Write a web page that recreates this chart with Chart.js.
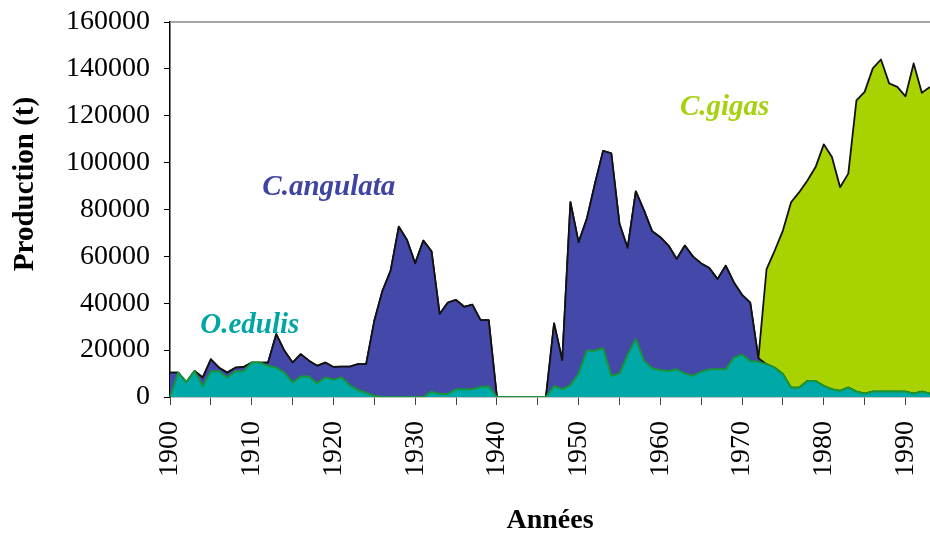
<!DOCTYPE html>
<html>
<head>
<meta charset="utf-8">
<script src="https://cdn.jsdelivr.net/npm/chart.js@4.4.1/dist/chart.umd.min.js"></script>
<style>
  body { margin: 0; background: #ffffff; overflow: hidden; }
</style>
</head>
<body>
<canvas id="grafico_huitres" width="930" height="536"></canvas>
<script>
// annees 1900 -> 1993
const annees = []
for (let a = 1900; a <= 1993; a++) annees.push(a)

// production en tonnes (aires empilees)
const o_edulis = [
    0, 10400, 6300, 11100, 4700, 11000, 11000, 8300, 11000, 11000,
    14700, 14700, 13300, 12500, 10400, 6300, 8700, 8700, 5900, 8300,
    7400, 8300, 5000, 3000, 1800, 400, 0, 0, 0, 0,
    0, 0, 2300, 1300, 1300, 3300, 3300, 3300, 4300, 4500,
    0, 0, 0, 0, 0, 0, 0, 4700, 3300, 5100,
    10000, 19700, 19700, 20800, 9000, 10000, 18000, 24700, 15400, 12300,
    11400, 11100, 11800, 10000, 9000, 10800, 11800, 11800, 11800, 16800,
    18000, 15400, 15000, 14000, 12500, 9700, 4000, 4000, 6800, 6800,
    4700, 3300, 2600, 4000, 2300, 1400, 2300, 2300, 2300, 2300,
    2300, 1400, 2300, 1400
]
const c_angulata = [
    10400, 0, 0, 0, 3600, 5100, 1500, 2100, 1500, 1800,
    0, 0, 1400, 14300, 9300, 8400, 9600, 6800, 7400, 6400,
    5400, 4700, 8000, 11000, 12200, 32100, 45300, 53900, 72700, 67000,
    57000, 66700, 59900, 34100, 39000, 38100, 35200, 36100, 28500, 28300,
    0, 0, 0, 0, 0, 0, 0, 26700, 12400, 78000,
    56000, 56300, 71300, 84200, 95000, 63900, 45600, 63000, 64200, 58400,
    56800, 53500, 47100, 54600, 50900, 46200, 43200, 38500, 44200, 32100,
    25600, 24900, 1500, 0, 0, 0, 0, 0, 0, 0,
    0, 0, 0, 0, 0, 0, 0, 0, 0, 0,
    0, 0, 0, 0
]
const c_gigas = [
    0, 0, 0, 0, 0, 0, 0, 0, 0, 0,
    0, 0, 0, 0, 0, 0, 0, 0, 0, 0,
    0, 0, 0, 0, 0, 0, 0, 0, 0, 0,
    0, 0, 0, 0, 0, 0, 0, 0, 0, 0,
    0, 0, 0, 0, 0, 0, 0, 0, 0, 0,
    0, 0, 0, 0, 0, 0, 0, 0, 0, 0,
    0, 0, 0, 0, 0, 0, 0, 0, 0, 0,
    0, 0, 0, 40600, 50000, 61300, 79100, 83400, 85600, 91300,
    103100, 99100, 86900, 91300, 124300, 128800, 137900, 141700, 131500, 130000,
    126000, 140900, 127500, 130900
]

// noms des especes poses sur le graphique (annee, valeur)
const etiquettes = [
    ['C.angulata', 1911.3, 86000, '#3f44a4'],
    ['O.edulis', 1903.7, 27300, '#00a6a6'],
    ['C.gigas', 1962.4, 120300, '#a6d10e'],
]

const police = 'Liberation Serif, Times New Roman, serif'

const plugin_textes = {
    id: 'textes',
    afterDraw(chart) {
        const ctx = chart.ctx
        const ca = chart.chartArea
        const sx = chart.scales.x
        const sy = chart.scales.y
        ctx.save()
        // cadre gris en haut
        ctx.strokeStyle = '#8a8a8a'
        ctx.lineWidth = 1.5
        ctx.beginPath()
        ctx.moveTo(ca.left, ca.top)
        ctx.lineTo(ca.right, ca.top)
        ctx.stroke()
        // especes
        ctx.font = 'italic bold 29px ' + police
        ctx.textAlign = 'left'
        ctx.textBaseline = 'alphabetic'
        etiquettes.forEach(e => {
            ctx.fillStyle = e[3]
            ctx.fillText(e[0], sx.getPixelForValue(e[1] - annees[0]), sy.getPixelForValue(e[2]))
        })
        // titre axe y
        ctx.fillStyle = '#000'
        ctx.font = 'bold 29px ' + police
        ctx.textAlign = 'center'
        ctx.textBaseline = 'middle'
        ctx.translate(26, 184)
        ctx.rotate(-Math.PI / 2)
        ctx.fillText('Production (t)', 0, 0)
        ctx.restore()
    }
}

const data_huitres = {
    labels: annees,
    datasets: [{
        label: 'O.edulis',
        data: o_edulis,
        backgroundColor: '#00a8a8',
        borderColor: '#16963a',
        borderWidth: 2,
        fill: 'origin',
    }, {
        label: 'C.angulata',
        data: c_angulata,
        backgroundColor: '#4448a8',
        borderColor: '#111111',
        borderWidth: 1.8,
        fill: '-1',
    }, {
        label: 'C.gigas',
        data: c_gigas,
        backgroundColor: '#a9d300',
        borderColor: '#111111',
        borderWidth: 1.8,
        fill: '-1',
    }]
}

const config_huitres = {
    type: 'line',
    data: data_huitres,
    options: {
        responsive: false,
        animation: false,
        layout: {
            autoPadding: false,
            padding: { top: 22, left: 0, right: 0, bottom: 0 }
        },
        elements: {
            point: { radius: 0 },
            line: { tension: 0, borderJoinStyle: 'round' }
        },
        plugins: {
            legend: { display: false },
            tooltip: { enabled: false },
        },
        scales: {
            x: {
                type: 'category',
                afterFit: s => { s.height = 139; s.paddingLeft = 0; s.paddingRight = 0 },
                grid: {
                    drawOnChartArea: false,
                    tickLength: 8,
                    tickWidth: 1,
                    tickColor: c => (annees[c.index] % 5 === 0 ? '#444' : 'rgba(0,0,0,0)'),
                },
                border: { color: '#8a8a8a', width: 1.5 },
                ticks: {
                    autoSkip: false,
                    minRotation: 90,
                    maxRotation: 90,
                    padding: 16,
                    color: '#000',
                    font: { family: police, size: 28 },
                    callback: (v, i) => (annees[i] % 10 === 0 ? String(annees[i]) : ''),
                },
                title: {
                    display: true,
                    text: 'Années',
                    color: '#000',
                    font: { family: police, size: 28, weight: 'bold', lineHeight: 1 },
                    padding: { top: 0, bottom: 1 },
                }
            },
            y: {
                stacked: true,
                min: 0,
                max: 160000,
                afterFit: s => { s.width = 170; s.paddingTop = 0; s.paddingBottom = 0 },
                grid: {
                    drawOnChartArea: false,
                    tickLength: 6,
                    tickColor: '#000',
                },
                border: { color: '#000', width: 1.5 },
                ticks: {
                    stepSize: 20000,
                    padding: 14,
                    color: '#000',
                    font: { family: police, size: 28 },
                    callback: v => String(v),
                },
            }
        }
    },
    plugins: [plugin_textes]
}

const ctx_huitres = document.getElementById('grafico_huitres')
new Chart(ctx_huitres, config_huitres)
</script>
</body>
</html>
